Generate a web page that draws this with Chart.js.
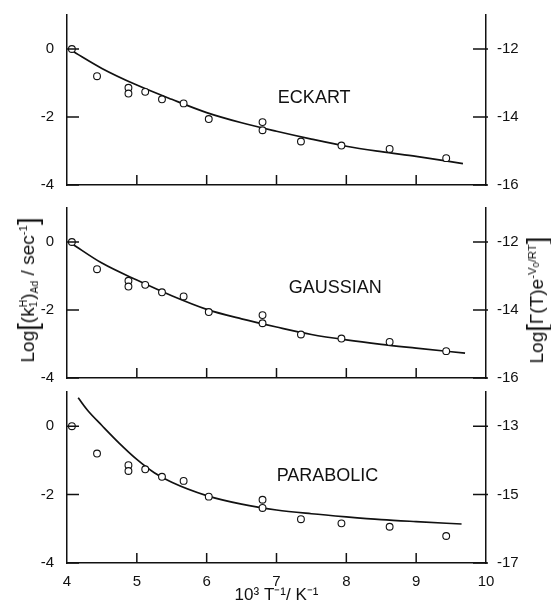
<!DOCTYPE html>
<html>
<head>
<meta charset="utf-8">
<script src="https://cdn.jsdelivr.net/npm/chart.js@4.4.1/dist/chart.umd.min.js"></script>
<style>
  body { margin: 0; background: #fff; }
  #wrap { position: relative; width: 551px; height: 606px; overflow: hidden;
          font-family: "Liberation Sans", Arial, sans-serif; color: #111; }
  canvas { position: absolute; left: 0; }
  .ytitle { position: absolute; white-space: nowrap; font-size: 19px;
            transform: translate(-50%, -50%) rotate(-90deg); }
  .br { font-size: 1.45em; vertical-align: -0.12em; font-weight: 300; }
  .stack { display: inline-block; vertical-align: middle; line-height: 0.95; font-size: 0.55em; text-align: left; }
  .stack span { display: block; }
  .lo { font-size: 0.55em; vertical-align: -0.45em; }
  .hi { font-size: 0.6em; vertical-align: 0.55em; }
</style>
</head>
<body>
<div id="wrap">
  <canvas id="eckart" width="551" height="200" style="top:0px"></canvas>
  <canvas id="gaussian" width="551" height="200" style="top:193px"></canvas>
  <canvas id="parabolic" width="551" height="229" style="top:377px"></canvas>
  <div class="ytitle" style="left:28px; top:290px">Log<span class="br">[</span>(k<span class="stack"><span>H</span><span>1</span></span>)<span class="lo">Ad</span> / sec<span class="hi">-1</span><span class="br">]</span></div>
  <div class="ytitle" style="left:537px; top:300px">Log<span class="br">[</span>&Gamma;(T)e<span class="hi">-V<span style="font-size:0.8em;vertical-align:-0.3em">0</span>/RT</span><span class="br">]</span></div>
</div>
<script>
// measured points (same data in every panel)
const obsX = [4.07, 4.43, 4.88, 4.88, 5.12, 5.36, 5.67, 6.03, 6.80, 6.80, 7.35, 7.93, 8.62, 9.43];
const obsY = [0.0, -0.80, -1.14, -1.31, -1.26, -1.48, -1.60, -2.06, -2.15, -2.39, -2.72, -2.84, -2.94, -3.21];

// calculated curves
const eckartX = [4.07, 4.5, 5.0, 5.5, 6.0, 6.5, 7.0, 7.5, 8.0, 8.5, 9.0, 9.67];
const eckartY = [-0.05, -0.57, -1.06, -1.48, -1.87, -2.17, -2.42, -2.65, -2.86, -3.02, -3.16, -3.37];
const gaussX = [4.07, 4.5, 5.0, 5.5, 6.0, 6.5, 7.0, 7.5, 8.0, 8.5, 9.0, 9.7];
const gaussY = [-0.05, -0.62, -1.12, -1.58, -1.98, -2.26, -2.5, -2.72, -2.88, -3.01, -3.12, -3.27];
const paraX = [4.16, 4.3, 4.5, 4.75, 5.0, 5.25, 5.5, 6.0, 6.5, 7.0, 7.5, 8.0, 8.5, 9.0, 9.65];
const paraY = [0.83, 0.45, 0.02, -0.5, -0.97, -1.36, -1.64, -2.03, -2.28, -2.45, -2.56, -2.65, -2.73, -2.79, -2.86];

// tick labels
const xTicks = [4, 5, 6, 7, 8, 9, 10];
const leftTicks = [0, -2, -4];
const rightTicksA = [-12, -14, -16];
const rightTicksB = [-13, -15, -17];

const ink = '#111';
const tickFont = { family: '"Liberation Sans", Arial, sans-serif', size: 15 };

function pairs(xs, ys) {
  return xs.map((x, i) => ({ x: x, y: ys[i] }));
}

// short ticks pointing into the plot, plus the panel name
const inwardTicks = {
  id: 'inwardTicks',
  afterDraw(chart, args, opts) {
    const { ctx, chartArea: a, scales } = chart;
    ctx.save();
    ctx.strokeStyle = ink;
    ctx.lineWidth = 1.5;
    ctx.beginPath();
    scales.x.ticks.forEach(t => {
      if (t.value > 4 && t.value < 10) {
        const px = scales.x.getPixelForValue(t.value);
        ctx.moveTo(px, a.bottom);
        ctx.lineTo(px, a.bottom - 10);
      }
    });
    scales.y.ticks.forEach(t => {
      const py = scales.y.getPixelForValue(t.value);
      ctx.moveTo(a.left, py);
      ctx.lineTo(a.left + 12, py);
    });
    scales.y1.ticks.forEach(t => {
      const py = scales.y1.getPixelForValue(t.value);
      ctx.moveTo(a.right - 13, py);
      ctx.lineTo(a.right + 2, py);
    });
    ctx.stroke();

    ctx.font = '18px "Liberation Sans", Arial, sans-serif';
    ctx.fillStyle = ink;
    ctx.textAlign = 'center';
    ctx.textBaseline = 'middle';
    ctx.fillText(opts.text, scales.x.getPixelForValue(opts.x), scales.y.getPixelForValue(opts.y));
    ctx.restore();
  }
};

function makePanel(id, curveX, curveY, rightTicks, label, showX) {
  const offset = rightTicks[0];
  return new Chart(document.getElementById(id), {
    data: {
      datasets: [
        {
          type: 'scatter',
          data: pairs(obsX, obsY),
          pointRadius: 3.4,
          pointBorderWidth: 1.1,
          pointBorderColor: ink,
          pointBackgroundColor: '#fff'
        },
        {
          type: 'line',
          data: pairs(curveX, curveY),
          borderColor: ink,
          borderWidth: 1.7,
          pointRadius: 0,
          fill: false,
          cubicInterpolationMode: 'monotone'
        }
      ]
    },
    options: {
      responsive: false,
      animation: false,
      layout: { padding: { top: 15, left: 0, right: 0, bottom: 0 } },
      plugins: {
        legend: { display: false },
        tooltip: { enabled: false },
        inwardTicks: label
      },
      scales: {
        x: {
          type: 'linear',
          position: 'bottom',
          min: 4,
          max: 10,
          grid: { display: false },
          border: { color: ink, width: 1.5 },
          afterBuildTicks: s => { s.ticks = xTicks.map(v => ({ value: v })); },
          afterFit: s => { s.height = showX ? 43 : 15; },
          ticks: { display: showX, color: ink, font: tickFont, padding: 2, maxRotation: 0 },
          title: {
            display: showX,
            text: '10³ T⁻¹/ K⁻¹',
            color: ink,
            font: { family: '"Liberation Sans", Arial, sans-serif', size: 17 },
            padding: { top: 0, bottom: 0 }
          }
        },
        y: {
          position: 'left',
          min: -4,
          max: 1,
          grid: { display: false },
          border: { color: ink, width: 1.5 },
          afterBuildTicks: s => { s.ticks = leftTicks.map(v => ({ value: v })); },
          afterFit: s => { s.width = 67; },
          ticks: { color: ink, font: tickFont, padding: 5 }
        },
        y1: {
          position: 'right',
          min: -4 + offset,
          max: 1 + offset,
          grid: { display: false },
          border: { color: ink, width: 1.5 },
          afterBuildTicks: s => { s.ticks = rightTicks.map(v => ({ value: v })); },
          afterFit: s => { s.width = 65; },
          ticks: { color: ink, font: tickFont, padding: 3 }
        }
      }
    },
    plugins: [inwardTicks]
  });
}

makePanel('eckart', eckartX, eckartY, rightTicksA, { text: 'ECKART', x: 7.54, y: -1.44 }, false);
makePanel('gaussian', gaussX, gaussY, rightTicksA, { text: 'GAUSSIAN', x: 7.84, y: -1.34 }, false);
makePanel('parabolic', paraX, paraY, rightTicksB, { text: 'PARABOLIC', x: 7.73, y: -1.46 }, true);
</script>
</body>
</html>
